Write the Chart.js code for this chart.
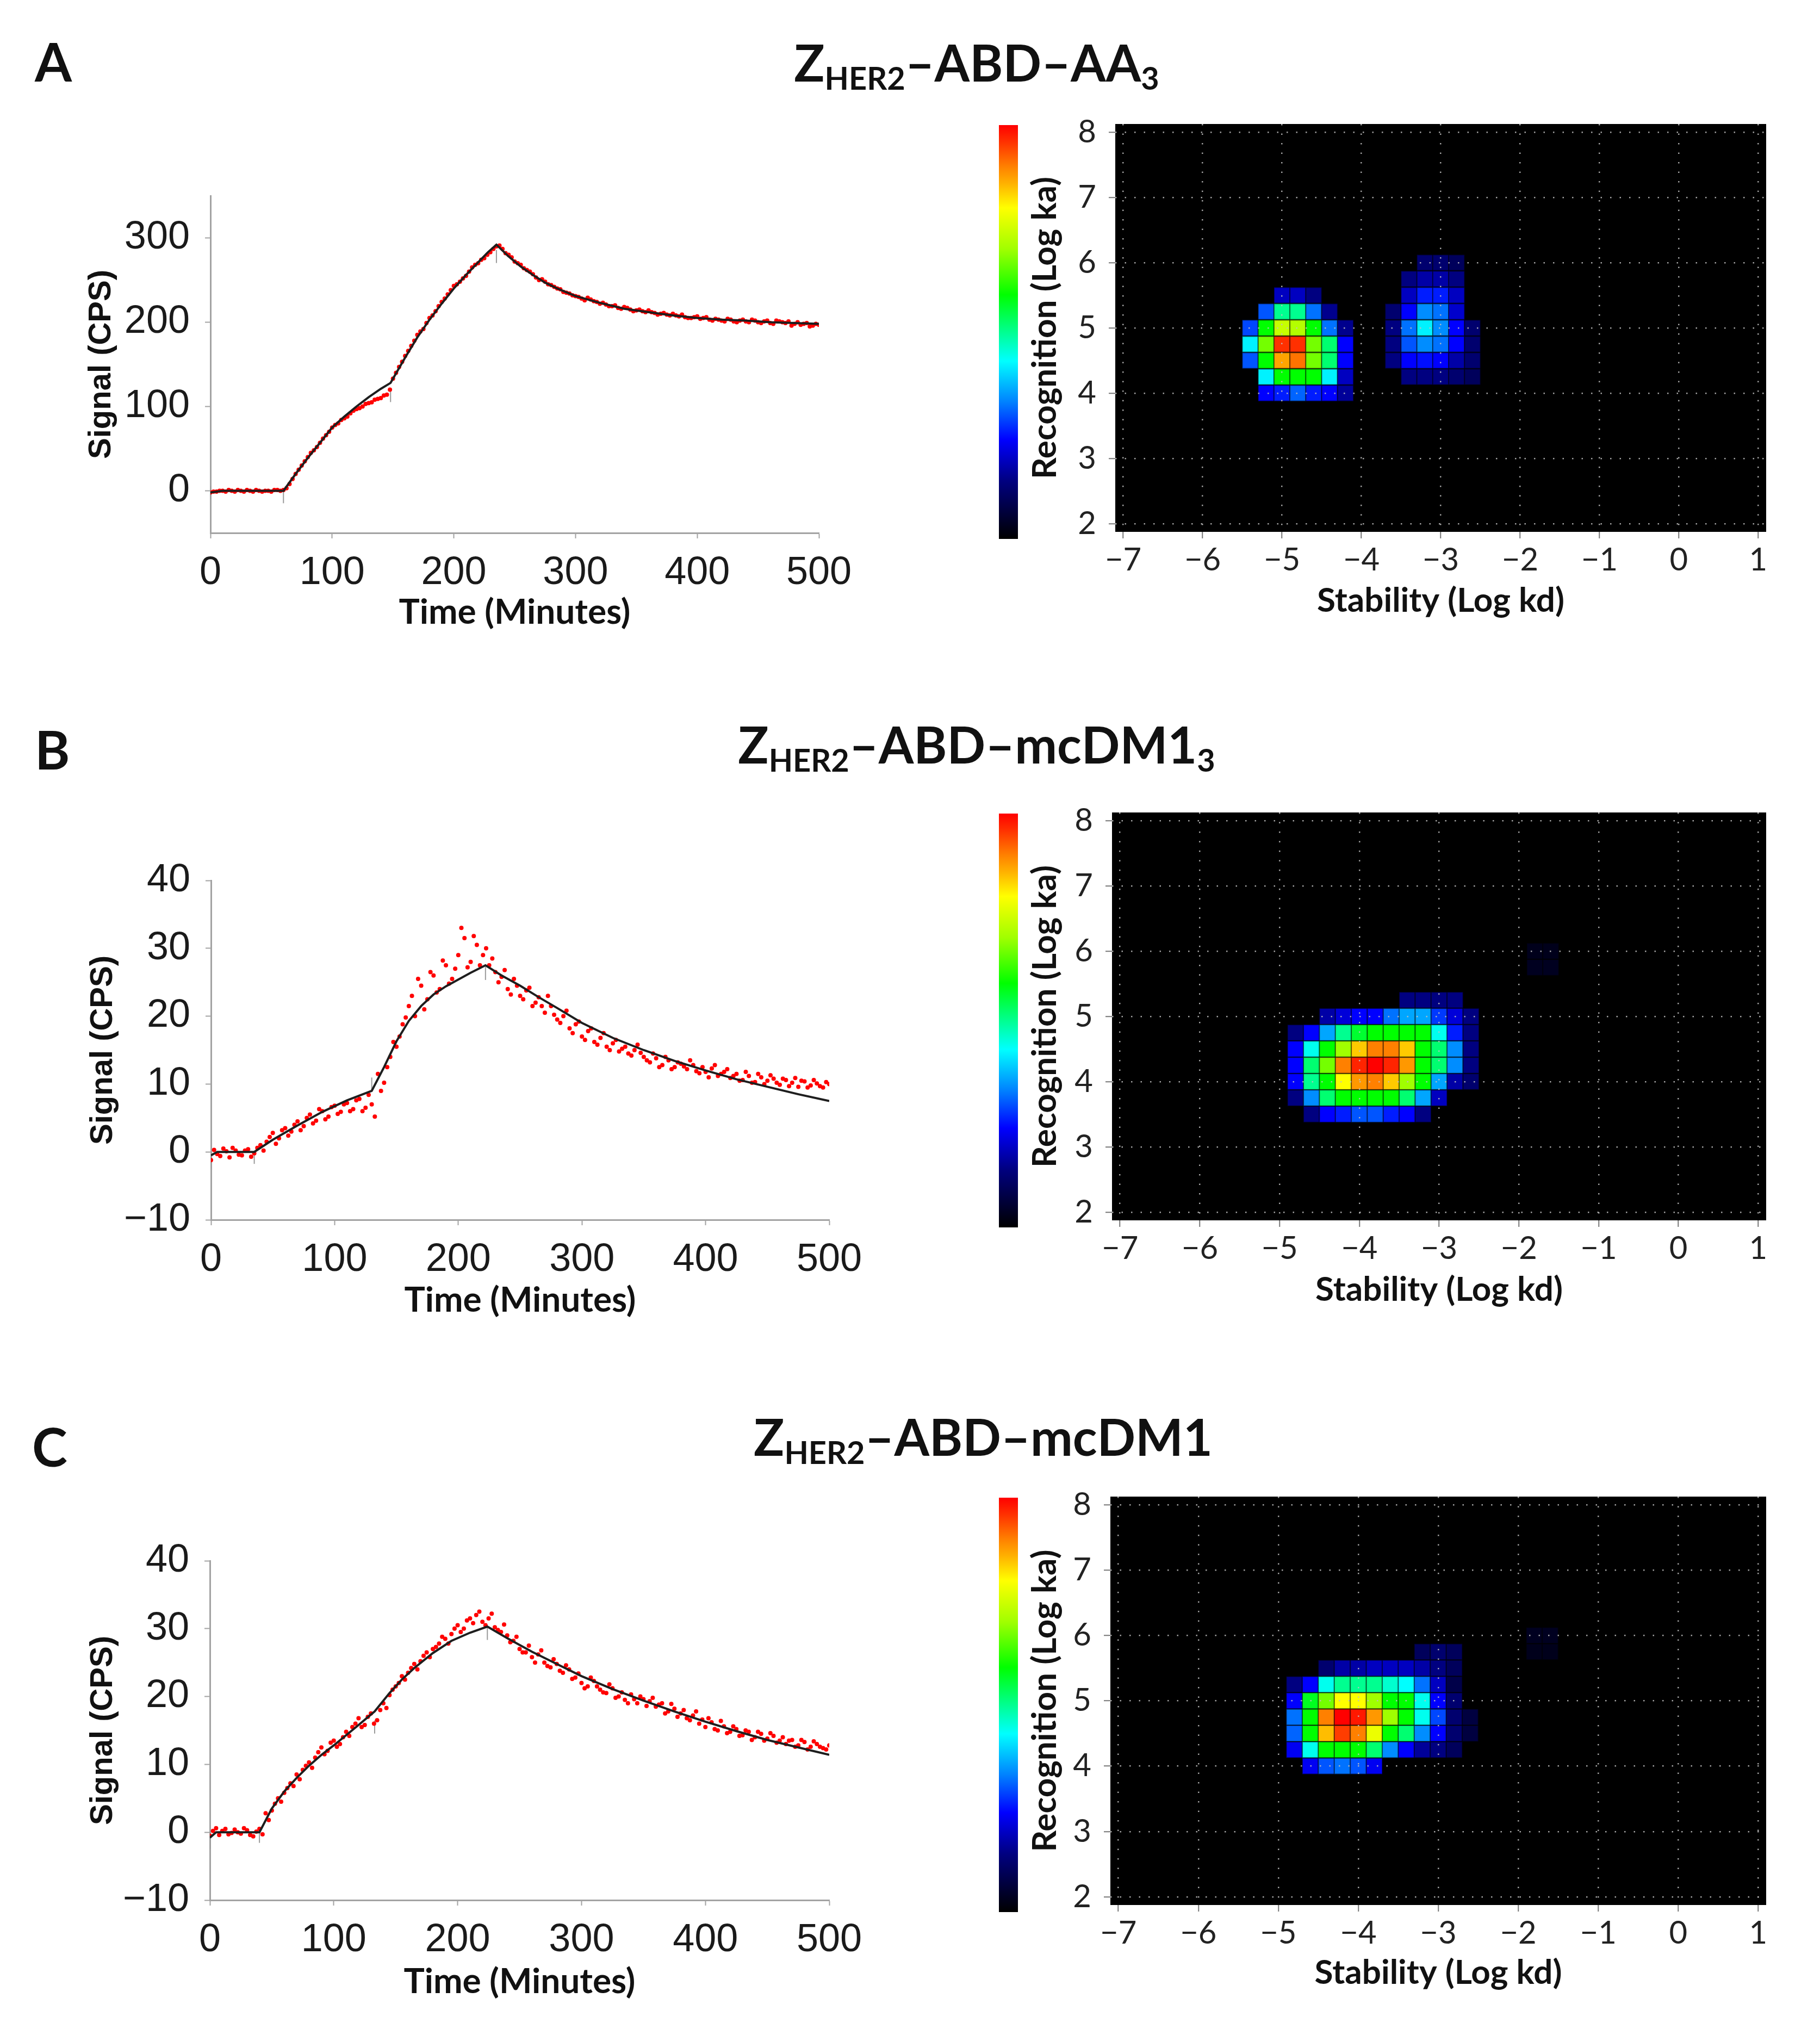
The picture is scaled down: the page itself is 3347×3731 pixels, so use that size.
<!DOCTYPE html>
<html>
<head>
<meta charset="utf-8">
<script src="https://cdn.jsdelivr.net/npm/chart.js@4.4.1/dist/chart.umd.min.js"></script>
<style>
body { margin: 0; background: #fff; width: 3347px; height: 3731px; position: relative; overflow: hidden; }
canvas { position: absolute; }
.lbl { position: absolute; font-family: Lato, sans-serif; font-weight: 700; color: #111; line-height: 1; white-space: nowrap; }
.ttl { transform: translateX(-50%); font-size: 93px; }
.ttl sub { font-size: 0.62em; vertical-align: baseline; position: relative; top: 0.26em; }
</style>
</head>
<body>
<div class="lbl" style="left:64px;top:63px;font-size:98px">A</div>
<div class="lbl" style="left:64px;top:1328px;font-size:98px">B</div>
<div class="lbl" style="left:59px;top:2610px;font-size:98px">C</div>
<div class="lbl ttl" style="left:1796px;top:68px">Z<sub>HER2</sub>–ABD–AA<sub>3</sub></div>
<div class="lbl ttl" style="left:1796px;top:1322px">Z<sub>HER2</sub>–ABD–mcDM1<sub>3</sub></div>
<div class="lbl ttl" style="left:1808px;top:2595px">Z<sub>HER2</sub>–ABD–mcDM1</div>
<script>
// sampling times of the measured signal (minutes)
var sampleMinutes = [0,5,10,15,20,25,30,35,40,45,50,55,60,65,70,75,80,85,90,95,100,105,110,115,120,125,130,135,140,145,150,155,160,165,170,175,180,185,190,195,200,205,210,215,220,225,230,235,240,245,250,255,260,265,270,275,280,285,290,295,300,305,310,315,320,325,330,335,340,345,350,355,360,365,370,375,380,385,390,395,400,405,410,415,420,425,430,435,440,445,450,455,460,465,470,475,480,485,490,495,500];
var sampleMinutesMid = [2.5,7.5,12.5,17.5,22.5,27.5,32.5,37.5,42.5,47.5,52.5,57.5,62.5,67.5,72.5,77.5,82.5,87.5,92.5,97.5,102.5,107.5,112.5,117.5,122.5,127.5,132.5,137.5,142.5,147.5,152.5,157.5,162.5,167.5,172.5,177.5,182.5,187.5,192.5,197.5,202.5,207.5,212.5,217.5,222.5,227.5,232.5,237.5,242.5,247.5,252.5,257.5,262.5,267.5,272.5,277.5,282.5,287.5,292.5,297.5,302.5,307.5,312.5,317.5,322.5,327.5,332.5,337.5,342.5,347.5,352.5,357.5,362.5,367.5,372.5,377.5,382.5,387.5,392.5,397.5,402.5,407.5,412.5,417.5,422.5,427.5,432.5,437.5,442.5,447.5,452.5,457.5,462.5,467.5,472.5,477.5,482.5,487.5,492.5,497.5];

// measured signal (CPS), red dots
var signalA = [-2,-1,0,1,-1,0,1,-1,0,0,-1,1,
    1,8,20,30,40,48,57,66,75,80,86,92,97,100,104,108,110,114,
    133,147,160,172,185,192,205,213,224,233,243,248,255,265,270,276,283,290,
    287,280,272,268,262,257,250,248,244,240,236,234,231,
    228,229,225,222,221,219,217,218,215,214,
    213,214,211,210,209,210,207,206,205,207,
    205,203,204,202,204,201,202,201,203,200,
    201,199,202,200,201,198,197,199,196,197];
var signalAMid = [-1,0,-1,0,1,-1,0,1,-1,0,1,0,
    3,14,25,35,45,52,62,70,78,84,88,95,98,103,105,109,113,120,
    140,153,166,178,189,199,208,219,228,238,245,252,260,268,274,280,287,291,
    282,277,270,264,260,253,251,245,242,239,235,232,
    230,226,227,224,223,219,220,216,217,213,
    215,212,212,209,211,208,208,209,205,206,
    204,206,202,203,201,203,200,203,200,202,
    199,202,198,201,199,196,200,198,195,198];
var signalB = [-1.2,-0.3,0.5,-0.8,0.2,-0.5,0.4,-0.2,1.0,1.5,2.8,2.0,
    3.5,3.0,4.5,3.8,5.5,4.6,6.0,5.2,6.8,5.9,7.2,6.3,
    7.8,6.5,7.0,11.5,10.2,14.0,15.5,18.8,21.5,20.0,24.5,22.5,
    26.0,24.0,27.5,25.5,29.0,31.5,28.0,30.5,29.0,27.5,26.5,25.8,
    24.0,25.5,23.0,23.8,21.5,22.8,20.5,21.5,19.5,20.0,18.2,18.8,
    17.0,17.8,16.2,16.8,15.5,16.0,14.8,15.5,14.2,15.8,14.0,13.2,
    13.8,12.8,13.5,12.5,13.0,12.2,12.8,11.6,11.8,12.3,11.2,11.8,
    10.9,11.5,10.6,11.2,10.3,11.0,10.5,10.8,9.9,10.6,10.2,9.6,
    10.4,9.8,10.1,9.5,10.0];
var signalBMid = [0.3,-0.6,0.1,0.6,-0.4,0.2,-0.7,0.6,0.2,2.2,1.2,3.2,
    2.4,4.0,3.2,5.0,4.2,6.3,4.8,6.6,5.6,7.0,6.0,7.6,
    6.0,8.4,5.2,9.0,12.5,16.2,17.0,19.8,23.0,25.5,21.0,26.5,
    23.5,28.2,24.8,27.0,33.0,27.2,31.8,27.5,30.0,28.5,25.0,26.8,
    23.2,24.5,22.5,24.2,22.0,21.5,23.0,20.2,19.0,20.8,17.5,19.2,
    16.5,18.2,15.8,17.5,15.0,16.5,15.2,14.5,15.0,14.6,13.5,14.5,
    12.5,14.0,12.2,13.2,12.6,13.5,11.9,12.5,11.0,12.8,11.5,12.2,
    11.2,10.5,11.8,10.2,11.5,10.0,11.3,10.2,10.8,9.7,10.9,10.5,
    9.5,10.6,9.7,10.3];
var signalC = [-0.5,0.6,0.2,-0.3,0.4,-0.2,0.3,-0.6,0.5,2.8,3.2,5.0,
    5.8,7.2,8.5,9.2,10.3,11.0,12.5,12.0,13.5,13.0,14.8,15.5,
    16.8,15.8,17.5,16.5,19.0,20.2,21.5,23.0,23.5,24.8,25.2,26.5,
    27.0,27.8,28.5,29.2,30.5,30.0,31.5,32.0,31.0,31.5,30.2,29.5,
    29.0,28.2,27.0,26.5,25.8,26.2,25.0,24.3,24.8,23.5,24.0,22.8,
    22.0,21.5,22.3,21.0,20.5,21.2,20.0,19.5,20.3,19.0,19.6,19.3,
    18.5,19.0,17.8,18.2,17.5,16.8,17.2,16.0,15.5,16.2,15.0,15.6,
    14.8,15.2,14.3,14.8,14.0,14.5,13.8,14.2,13.5,13.0,13.6,12.8,
    13.3,12.6,13.0,12.4,12.8];
var signalCMid = [0.2,-0.4,0.5,-0.1,0.0,0.6,-0.4,0.1,-0.3,1.8,4.2,4.5,
    6.5,6.8,7.8,9.8,9.5,11.8,11.5,13.2,12.6,14.0,14.2,16.0,
    15.5,17.0,16.0,18.0,18.3,21.0,22.0,22.5,24.2,24.0,26.0,25.8,
    27.3,28.8,27.8,30.0,29.5,31.2,30.8,32.5,30.5,32.2,29.8,30.6,
    28.0,28.8,26.5,27.5,25.0,26.8,24.5,25.5,23.8,24.6,22.6,23.4,
    21.2,22.8,21.5,20.6,21.8,19.8,20.6,19.0,19.6,20.0,18.6,19.8,
    18.8,17.5,18.9,17.0,18.0,16.5,17.8,16.6,16.8,15.2,16.4,14.6,
    15.6,14.2,15.0,13.6,14.8,13.5,14.6,13.2,14.0,13.5,12.6,13.6,
    12.2,13.4,12.6,12.2];

// fitted curves, black lines
var fitMinutesA = [0,5,10,60,70,80,90,100,110,120,130,140,148,160,170,180,190,200,210,220,228,235,245,255,265,275,285,300,320,340,360,380,400,420,440,460,480,500];
var fitSignalA = [-2,-1,0,0,20,39,57,75,88,100,111,121,128,158,182,203,222,240,256,271,283,292,278,266,256,247,240,231,223,216,212,208,205,203,202,200,199,198];
var fitMinutesB = [0,5,35,50,70,90,110,130,140,150,160,170,180,190,200,210,222,235,250,265,280,300,325,350,375,400,425,450,475,500];
var fitSignalB = [-0.5,0,0,1.8,3.9,5.9,7.6,9.0,12.5,16.3,19.3,21.5,23.2,24.4,25.4,26.4,27.5,26.0,24.5,22.8,21.2,19.0,16.8,15.0,13.4,12.0,10.7,9.6,8.5,7.5];
var fitMinutesC = [0,5,40,50,60,70,80,90,100,110,120,133,145,155,165,180,195,210,224,240,260,280,300,325,350,375,400,425,450,475,500];
var fitSignalC = [-0.8,0,0,3.5,6.0,8.0,9.8,11.4,12.8,14.3,15.8,17.8,20.5,22.5,24.2,26.4,28.2,29.4,30.3,28.6,26.6,24.8,23.0,21.1,19.4,17.8,16.3,14.9,13.6,12.5,11.4];

// small grey markers at the phase changes
var phaseMinutesA = [0,60,148,235];
var phaseSignalA = [-2,-7,113,278];
var phaseMinutesB = [0,35,130,222];
var phaseSignalB = [-1.5,-0.8,10,26.3];
var phaseMinutesC = [0,40,133,224];
var phaseSignalC = [-1.5,-0.6,15.5,29.3];

var timeTicks = [0,100,200,300,400,500];
var signalTicksA = [0,100,200,300];
var signalTicksBC = [-10,0,10,20,30,40];
var stabilityTicks = [-7,-6,-5,-4,-3,-2,-1,0,1];
var recognitionTicks = [2,3,4,5,6,7,8];
var kdStep = 0.2;

// interaction map cells: [log kd, log ka, relative weight 0..1]
var cellsA = [
    [-5.0,5.5,.19],[-4.8,5.5,.19],[-4.6,5.5,.14],
    [-5.2,5.25,.3],[-5.0,5.25,.5],[-4.8,5.25,.5],[-4.6,5.25,.32],[-4.4,5.25,.15],
    [-5.4,5,.29],[-5.2,5,.59],[-5.0,5,.74],[-4.8,5,.72],[-4.6,5,.59],[-4.4,5,.32],[-4.2,5,.15],
    [-5.4,4.75,.42],[-5.2,4.75,.67],[-5.0,4.75,.96],[-4.8,4.75,.96],[-4.6,4.75,.67],[-4.4,4.75,.52],[-4.2,4.75,.24],
    [-5.4,4.5,.3],[-5.2,4.5,.59],[-5.0,4.5,.87],[-4.8,4.5,.91],[-4.6,4.5,.67],[-4.4,4.5,.52],[-4.2,4.5,.24],
    [-5.2,4.25,.42],[-5.0,4.25,.59],[-4.8,4.25,.59],[-4.6,4.25,.59],[-4.4,4.25,.42],[-4.2,4.25,.19],
    [-5.2,4,.24],[-5.0,4,.26],[-4.8,4,.31],[-4.6,4,.26],[-4.4,4,.24],[-4.2,4,.16],
    [-3.2,6,.12],[-3.0,6,.12],[-2.8,6,.1],
    [-3.4,5.75,.14],[-3.2,5.75,.17],[-3.0,5.75,.17],[-2.8,5.75,.14],
    [-3.4,5.5,.19],[-3.2,5.5,.26],[-3.0,5.5,.26],[-2.8,5.5,.19],
    [-3.6,5.25,.12],[-3.4,5.25,.24],[-3.2,5.25,.34],[-3.0,5.25,.32],[-2.8,5.25,.2],
    [-3.6,5,.14],[-3.4,5,.32],[-3.2,5,.42],[-3.0,5,.34],[-2.8,5,.24],[-2.6,5,.12],
    [-3.6,4.75,.14],[-3.4,4.75,.3],[-3.2,4.75,.34],[-3.0,4.75,.32],[-2.8,4.75,.24],[-2.6,4.75,.12],
    [-3.6,4.5,.14],[-3.4,4.5,.24],[-3.2,4.5,.25],[-3.0,4.5,.24],[-2.8,4.5,.17],[-2.6,4.5,.12],
    [-3.4,4.25,.14],[-3.2,4.25,.14],[-3.0,4.25,.14],[-2.8,4.25,.12],[-2.6,4.25,.1]
];
var cellsB = [
    [-3.4,5.25,.14],[-3.2,5.25,.14],[-3.0,5.25,.14],[-2.8,5.25,.14],
    [-4.4,5,.17],[-4.2,5,.21],[-4.0,5,.24],[-3.8,5,.24],[-3.6,5,.32],[-3.4,5,.36],[-3.2,5,.36],[-3.0,5,.28],[-2.8,5,.21],[-2.6,5,.14],
    [-4.8,4.75,.14],[-4.6,4.75,.24],[-4.4,4.75,.36],[-4.2,4.75,.5],[-4.0,4.75,.56],[-3.8,4.75,.59],[-3.6,4.75,.59],[-3.4,4.75,.59],[-3.2,4.75,.59],[-3.0,4.75,.44],[-2.8,4.75,.26],[-2.6,4.75,.14],
    [-4.8,4.5,.24],[-4.6,4.5,.44],[-4.4,4.5,.59],[-4.2,4.5,.7],[-4.0,4.5,.84],[-3.8,4.5,.9],[-3.6,4.5,.9],[-3.4,4.5,.84],[-3.2,4.5,.59],[-3.0,4.5,.52],[-2.8,4.5,.34],[-2.6,4.5,.14],
    [-4.8,4.25,.24],[-4.6,4.25,.52],[-4.4,4.25,.67],[-4.2,4.25,.9],[-4.0,4.25,.97],[-3.8,4.25,1],[-3.6,4.25,.97],[-3.4,4.25,.88],[-3.2,4.25,.59],[-3.0,4.25,.52],[-2.8,4.25,.34],[-2.6,4.25,.14],
    [-4.8,4,.24],[-4.6,4,.5],[-4.4,4,.59],[-4.2,4,.8],[-4.0,4,.88],[-3.8,4,.9],[-3.6,4,.84],[-3.4,4,.7],[-3.2,4,.59],[-3.0,4,.36],[-2.8,4,.17],[-2.6,4,.12],
    [-4.8,3.75,.14],[-4.6,3.75,.34],[-4.4,3.75,.52],[-4.2,3.75,.59],[-4.0,3.75,.59],[-3.8,3.75,.59],[-3.6,3.75,.59],[-3.4,3.75,.52],[-3.2,3.75,.36],[-3.0,3.75,.19],
    [-4.6,3.5,.14],[-4.4,3.5,.24],[-4.2,3.5,.26],[-4.0,3.5,.3],[-3.8,3.5,.3],[-3.6,3.5,.26],[-3.4,3.5,.24],[-3.2,3.5,.14],
    [-1.8,6,.03],[-1.6,6,.03],[-1.8,5.75,.035],[-1.6,5.75,.035]
];
var cellsC = [
    [-3.2,5.75,.1],[-3.0,5.75,.12],[-2.8,5.75,.1],
    [-4.4,5.5,.12],[-4.2,5.5,.17],[-4.0,5.5,.17],[-3.8,5.5,.19],[-3.6,5.5,.19],[-3.4,5.5,.19],[-3.2,5.5,.17],[-3.0,5.5,.14],[-2.8,5.5,.1],
    [-4.8,5.25,.14],[-4.6,5.25,.24],[-4.4,5.25,.44],[-4.2,5.25,.5],[-4.0,5.25,.5],[-3.8,5.25,.5],[-3.6,5.25,.46],[-3.4,5.25,.43],[-3.2,5.25,.32],[-3.0,5.25,.19],[-2.8,5.25,.08],
    [-4.8,5,.24],[-4.6,5,.57],[-4.4,5,.67],[-4.2,5,.8],[-4.0,5,.8],[-3.8,5,.7],[-3.6,5,.59],[-3.4,5,.59],[-3.2,5,.44],[-3.0,5,.24],[-2.8,5,.12],
    [-4.8,4.75,.32],[-4.6,4.75,.59],[-4.4,4.75,.9],[-4.2,4.75,1],[-4.0,4.75,.98],[-3.8,4.75,.88],[-3.6,4.75,.7],[-3.4,4.75,.59],[-3.2,4.75,.44],[-3.0,4.75,.29],[-2.8,4.75,.12],[-2.6,4.75,.07],
    [-4.8,4.5,.31],[-4.6,4.5,.59],[-4.4,4.5,.85],[-4.2,4.5,.95],[-4.0,4.5,.9],[-3.8,4.5,.78],[-3.6,4.5,.59],[-3.4,4.5,.52],[-3.2,4.5,.34],[-3.0,4.5,.24],[-2.8,4.5,.12],[-2.6,4.5,.07],
    [-4.8,4.25,.23],[-4.6,4.25,.44],[-4.4,4.25,.59],[-4.2,4.25,.59],[-4.0,4.25,.59],[-3.8,4.25,.52],[-3.6,4.25,.34],[-3.4,4.25,.24],[-3.2,4.25,.16],[-3.0,4.25,.14],[-2.8,4.25,.1],
    [-4.6,4,.23],[-4.4,4,.3],[-4.2,4,.32],[-4.0,4,.3],[-3.8,4,.23],
    [-1.8,6,.035],[-1.6,6,.035],[-1.8,5.75,.03],[-1.6,5.75,.03]
];

// jet-like colour scale, black at the bottom
var jetStops = [[0,[0,0,0]],[0.14,[0,0,128]],[0.24,[0,0,255]],[0.33,[0,128,255]],[0.43,[0,255,255]],
    [0.51,[0,255,128]],[0.59,[0,255,0]],[0.7,[160,255,0]],[0.8,[255,255,0]],[0.86,[255,176,0]],
    [0.9,[255,128,0]],[0.96,[255,48,0]],[1,[255,0,0]]];

function jet(v) {
    v = Math.max(0, Math.min(1, v));
    for (var i = 1; i < jetStops.length; i++) {
        if (v <= jetStops[i][0]) {
            var a = jetStops[i-1], b = jetStops[i];
            var f = (v - a[0]) / (b[0] - a[0]);
            var c = [0,1,2].map(function(k){ return Math.round(a[1][k] + f*(b[1][k]-a[1][k])); });
            return 'rgb(' + c.join(',') + ')';
        }
    }
    return 'rgb(255,0,0)';
}

function minus(v) { return v < 0 ? '\u2212' + Math.abs(v) : String(v); }

function addCanvas(f) {
    var c = document.createElement('canvas');
    c.width = f.r - f.l; c.height = f.b - f.t;
    c.style.left = f.l + 'px'; c.style.top = f.t + 'px';
    c.style.width = c.width + 'px'; c.style.height = c.height + 'px';
    document.body.appendChild(c);
    return c;
}

function pairs(xs, ys) { return xs.map(function(x, i){ return {x: x, y: ys[i]}; }); }

var axisGray = '#a3a3a3';
var inkColor = '#1a1a1a';

function drawKinetics(frame, area, yMin, yMax, yTicks, signal, signalMid, fitX, fitY, phaseX, phaseY) {
    var ctx = addCanvas(frame);
    var dots = pairs(sampleMinutes, signal).concat(pairs(sampleMinutesMid, signalMid));
    return new Chart(ctx, {
        type: 'scatter',
        data: { datasets: [
            { data: pairs(phaseX, phaseY), pointStyle: 'line', rotation: 90, pointRadius: 12,
              borderColor: '#9a9a9a', borderWidth: 2, order: 2 },
            { data: pairs(fitX, fitY), showLine: true, borderColor: '#1e1e1e', borderWidth: 4, pointRadius: 0, order: 0 },
            { data: dots, showLine: false, backgroundColor: '#ff0000', pointRadius: 4, pointBorderWidth: 0, order: 1 }
        ]},
        options: {
            responsive: false, animation: false, devicePixelRatio: 1, events: [],
            layout: { padding: { top: area.t - frame.t, right: frame.r - area.r, left: 0, bottom: 0 } },
            plugins: { legend: { display: false }, tooltip: { enabled: false } },
            scales: {
                x: {
                    type: 'linear', min: 0, max: 500,
                    afterBuildTicks: function(a){ a.ticks = timeTicks.map(function(v){ return {value: v}; }); },
                    afterFit: function(a){ a.height = frame.b - area.b; },
                    border: { color: axisGray, width: 3 },
                    grid: { drawOnChartArea: false, tickLength: 10, tickColor: axisGray, tickWidth: 2 },
                    ticks: { padding: 21, color: inkColor, font: { family: 'Liberation Sans', size: 72 } },
                    title: { display: true, text: 'Time (Minutes)', color: '#111',
                             font: { family: 'Lato', weight: 'bold', size: 64 }, padding: { top: 0, bottom: 12 } }
                },
                y: {
                    type: 'linear', min: yMin, max: yMax,
                    afterBuildTicks: function(a){ a.ticks = yTicks.map(function(v){ return {value: v}; }); },
                    afterFit: function(a){ a.width = area.l - frame.l; },
                    border: { color: axisGray, width: 3 },
                    grid: { drawOnChartArea: false, tickLength: 10, tickColor: axisGray, tickWidth: 2 },
                    ticks: { padding: 28, color: inkColor, font: { family: 'Liberation Sans', size: 72 }, callback: minus },
                    title: { display: true, text: 'Signal (CPS)', color: '#111',
                             font: { family: 'Liberation Sans', weight: 'bold', size: 58 }, padding: { top: area.yTitle - frame.l - 35, bottom: 0 } }
                }
            }
        }
    });
}

var blackPlot = {
    id: 'blackPlot',
    beforeDraw: function(chart) {
        var a = chart.chartArea, g = chart.ctx;
        g.save(); g.fillStyle = '#000';
        g.fillRect(a.left, a.top, a.right - a.left, a.bottom - a.top);
        g.restore();
    }
};

var colorBar = {
    id: 'colorBar',
    afterDraw: function(chart) {
        var a = chart.chartArea, g = chart.ctx;
        var top = a.top + 2, bottom = a.bottom + 13;
        var grad = g.createLinearGradient(0, bottom, 0, top);
        jetStops.forEach(function(s){ grad.addColorStop(s[0], 'rgb(' + s[1].join(',') + ')'); });
        g.save(); g.fillStyle = grad;
        g.fillRect(37, top, 35, bottom - top);
        g.restore();
    }
};

function drawMap(frame, area, cells) {
    var ctx = addCanvas(frame);
    return new Chart(ctx, {
        type: 'scatter',
        data: { datasets: [{
            data: cells.map(function(d){ return {x: d[0], y: d[1], v: d[2]}; }),
            pointStyle: 'rect',
            pointRadius: function(c) {
                var s = c.chart.scales.x;
                return Math.abs(s.getPixelForValue(kdStep) - s.getPixelForValue(0)) / Math.SQRT2;
            },
            pointBackgroundColor: function(c){ return jet(c.raw ? c.raw.v : 0); },
            pointBorderColor: 'rgba(0,0,0,0.45)',
            pointBorderWidth: 2
        }]},
        plugins: [blackPlot, colorBar],
        options: {
            responsive: false, animation: false, devicePixelRatio: 1, events: [],
            layout: { padding: { top: area.t - frame.t, right: frame.r - area.r, left: 0, bottom: 0 } },
            plugins: { legend: { display: false }, tooltip: { enabled: false } },
            scales: {
                x: {
                    type: 'linear', min: -7.1, max: 1.1,
                    afterBuildTicks: function(a){ a.ticks = stabilityTicks.map(function(v){ return {value: v}; }); },
                    afterFit: function(a){ a.height = frame.b - area.b; },
                    border: { display: false, dash: [2.5, 15] },
                    grid: { z: 1, color: 'rgba(190,190,190,0.85)', lineWidth: 2.5,
                            tickLength: 12, tickColor: '#777', tickWidth: 2, tickBorderDash: [] },
                    ticks: { padding: 5, color: '#222', font: { family: 'Lato', size: 58 }, callback: minus },
                    title: { display: true, text: 'Stability (Log kd)', color: '#111',
                             font: { family: 'Lato', weight: 'bold', size: 62 }, padding: { top: 0, bottom: 18 } }
                },
                y: {
                    type: 'linear', min: 1.875, max: 8.125,
                    afterBuildTicks: function(a){ a.ticks = recognitionTicks.map(function(v){ return {value: v}; }); },
                    afterFit: function(a){ a.width = area.l - frame.l; },
                    border: { display: false, dash: [2.5, 15] },
                    grid: { z: 1, color: 'rgba(190,190,190,0.85)', lineWidth: 2.5,
                            tickLength: 12, tickColor: '#777', tickWidth: 2, tickBorderDash: [] },
                    ticks: { padding: 23, color: '#222', font: { family: 'Lato', size: 58 } },
                    title: { display: true, text: 'Recognition (Log ka)', color: '#111',
                             font: { family: 'Lato', weight: 'bold', size: 62 }, padding: { top: 85, bottom: 0 } }
                }
            }
        }
    });
}

drawKinetics({l: 60, t: 270, r: 1620, b: 1177}, {l: 387, t: 360, r: 1506, b: 980, yTitle: 187},
    -50, 350, signalTicksA, signalA, signalAMid, fitMinutesA, fitSignalA, phaseMinutesA, phaseSignalA);
drawKinetics({l: 60, t: 1529, r: 1640, b: 2442}, {l: 388, t: 1619, r: 1525, b: 2243, yTitle: 190},
    -10, 40, signalTicksBC, signalB, signalBMid, fitMinutesB, fitSignalB, phaseMinutesB, phaseSignalB);
drawKinetics({l: 60, t: 2780, r: 1640, b: 3695}, {l: 386, t: 2870, r: 1525, b: 3494, yTitle: 190},
    -10, 40, signalTicksBC, signalC, signalCMid, fitMinutesC, fitSignalC, phaseMinutesC, phaseSignalC);

drawMap({l: 1800, t: 160, r: 3320, b: 1160}, {l: 2051, t: 228, r: 3248, b: 978}, cellsA);
drawMap({l: 1800, t: 1426, r: 3320, b: 2427}, {l: 2045, t: 1494, r: 3248, b: 2244}, cellsB);
drawMap({l: 1800, t: 2684, r: 3320, b: 3683}, {l: 2042, t: 2752, r: 3248, b: 3503}, cellsC);
</script>
</body>
</html>
